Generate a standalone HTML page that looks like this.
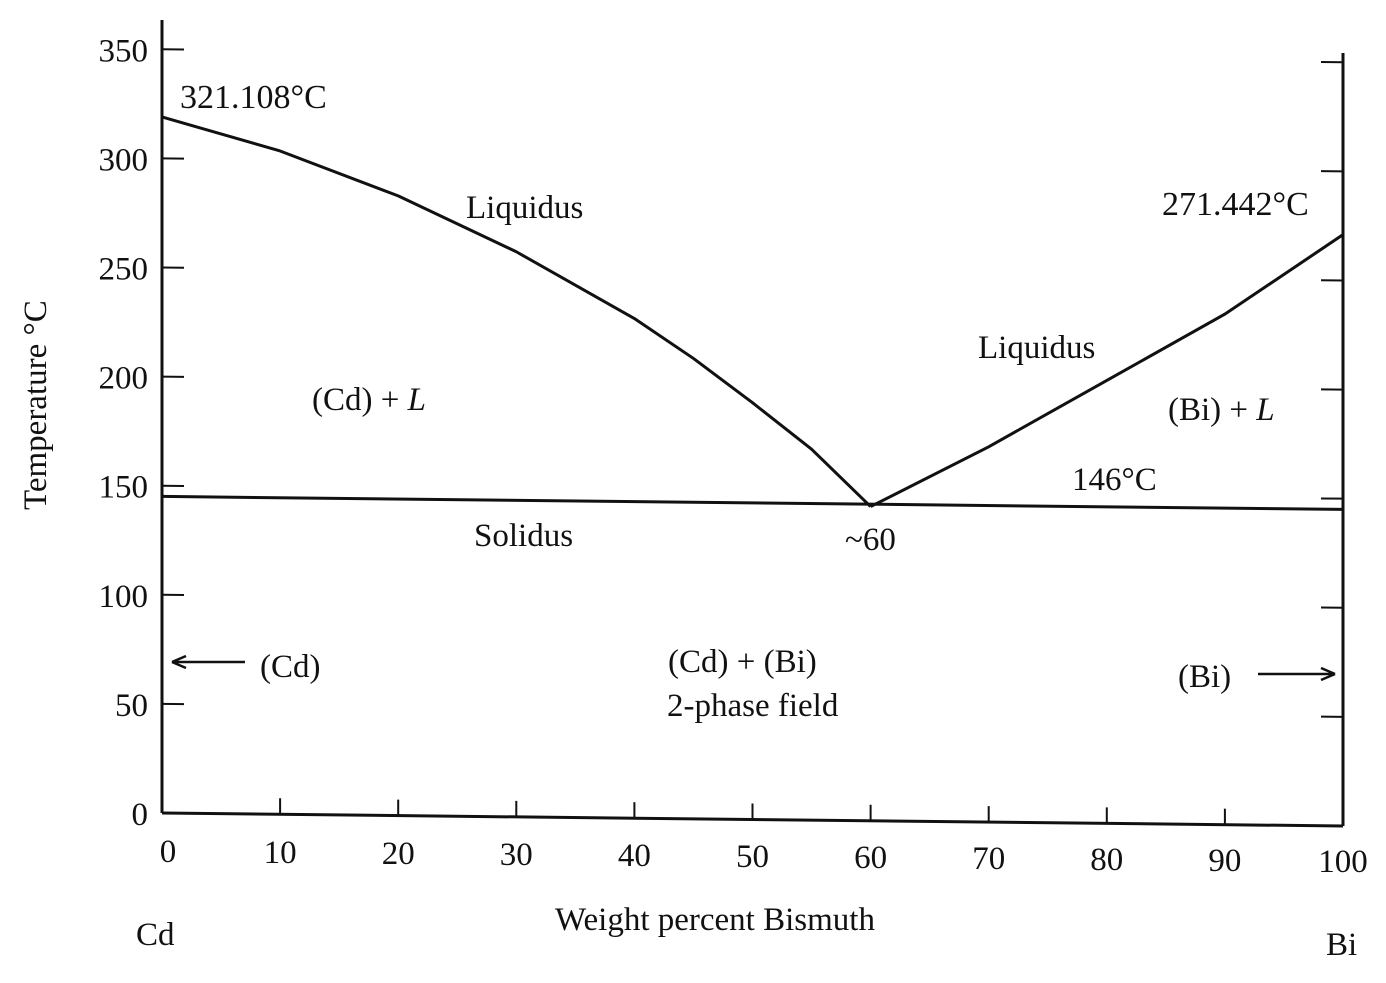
<!DOCTYPE html>
<html><head><meta charset="utf-8"><style>
html,body{margin:0;padding:0;background:#fff;}
svg{display:block;font-family:"Liberation Serif",serif;}
text{fill:#111;}
</style></head><body>
<svg id="c" width="1386" height="983" viewBox="0 0 1386 983" xmlns="http://www.w3.org/2000/svg">
<g id="plot" transform="translate(162,0) skewY(0.63) translate(-162,0)"></g>
<g id="labels"></g>
</svg>
<script>
const yTicks=[0,50,100,150,200,250,300,350];
const xTicks=[0,10,20,30,40,50,60,70,80,90,100];
const leftWt=[0,10,20,30,40,45,50,55,60];
const leftT=[319,304,284,259,229,211,191,170,144];
const rightWt=[60,70,80,90,100];
const rightT=[144,172,203,234,271];
const solidusT=146;
const X=v=>162+v*11.81;
const Y=t=>813-t*2.182;
const NS="http://www.w3.org/2000/svg";
const plot=document.getElementById('plot'),labels=document.getElementById('labels');
function mk(tag,attrs,parent,txt){const e=document.createElementNS(NS,tag);for(const k in attrs)e.setAttribute(k,attrs[k]);if(txt!==undefined)e.textContent=txt;parent.appendChild(e);return e;}
let e;
e=mk('line',{x1:162,y1:20,x2:162,y2:Y(0),stroke:'#111','stroke-width':3},plot);

e=mk('line',{x1:X(100),y1:40,x2:X(100),y2:Y(0),stroke:'#111','stroke-width':3},plot);

e=mk('line',{x1:162,y1:Y(0),x2:X(100),y2:Y(0),stroke:'#111','stroke-width':3},plot);

yTicks.forEach(t=>{
 e=mk('line',{x1:162,y1:Y(t),x2:184,y2:Y(t),stroke:'#111','stroke-width':2},plot);
 
 e=mk('line',{x1:X(100)-22,y1:Y(t),x2:X(100),y2:Y(t),stroke:'#111','stroke-width':2},plot);
 
 e=mk('text',{x:148,y:Y(t)+12,'font-size':33,'text-anchor':'end'},labels,String(t));
 
});
xTicks.forEach(v=>{
 e=mk('line',{x1:X(v),y1:Y(0),x2:X(v),y2:Y(0)-16,stroke:'#111','stroke-width':2},plot);
 
 e=mk('text',{x:X(v)+(v===0?6:0),y:862+v*0.1,'font-size':33,'text-anchor':'middle'},labels,String(v));
 
});
e=mk('polyline',{points:leftWt.map((w,i)=>X(w)+','+Y(leftT[i])).join(' '),fill:'none',stroke:'#111','stroke-width':3,'stroke-linejoin':'round'},plot);

e=mk('polyline',{points:rightWt.map((w,i)=>X(w)+','+Y(rightT[i])).join(' '),fill:'none',stroke:'#111','stroke-width':3},plot);

e=mk('line',{x1:162,y1:Y(solidusT)+2,x2:X(100),y2:Y(solidusT)+2,stroke:'#111','stroke-width':3},plot);

e=mk('path',{d:'M245,662 L172,662 M172,662 l14,-6 M172,662 l14,6',stroke:'#111','stroke-width':2.5,fill:'none'},labels);

e=mk('path',{d:'M1258,674 L1335,674 M1335,674 l-14,-6 M1335,674 l-14,6',stroke:'#111','stroke-width':2.5,fill:'none'},labels);

const T=[
['321.108°C',180,108,34,'start','melting-point-cd'],
['Liquidus',466,218,33,'start','liquidus-label-left'],
['271.442°C',1162,215,34,'start','melting-point-bi'],
['Liquidus',978,358,33,'start','liquidus-label-right'],
['Solidus',474,546,33,'start','solidus-label'],
['~60',845,550,33,'start','eutectic-composition'],
['146°C',1072,490,33,'start','eutectic-temperature'],
['(Cd)',260,677,33,'start','cd-phase-label'],
['(Cd) + (Bi)',668,672,33,'start','two-phase-label'],
['2-phase field',667,716,33,'start','two-phase-field-label'],
['(Bi)',1178,687,33,'start','bi-phase-label'],
['Weight percent Bismuth',555,930,33,'start','x-axis-title'],
['Cd',136,945,33,'start','cd-end-label'],
['Bi',1326,955,33,'start','bi-end-label']];
T.forEach(a=>{e=mk('text',{x:a[1],y:a[2],'font-size':a[3],'text-anchor':a[4]},labels,a[0]);
 });
e=mk('text',{x:312,y:410,'font-size':33},labels);e.innerHTML='(Cd) + <tspan font-style="italic">L</tspan>';

e=mk('text',{x:1168,y:420,'font-size':33},labels);e.innerHTML='(Bi) + <tspan font-style="italic">L</tspan>';

e=mk('text',{x:46,y:510,'font-size':33,transform:'rotate(-90 46 510)'},labels,'Temperature °C');

</script>
</body></html>
